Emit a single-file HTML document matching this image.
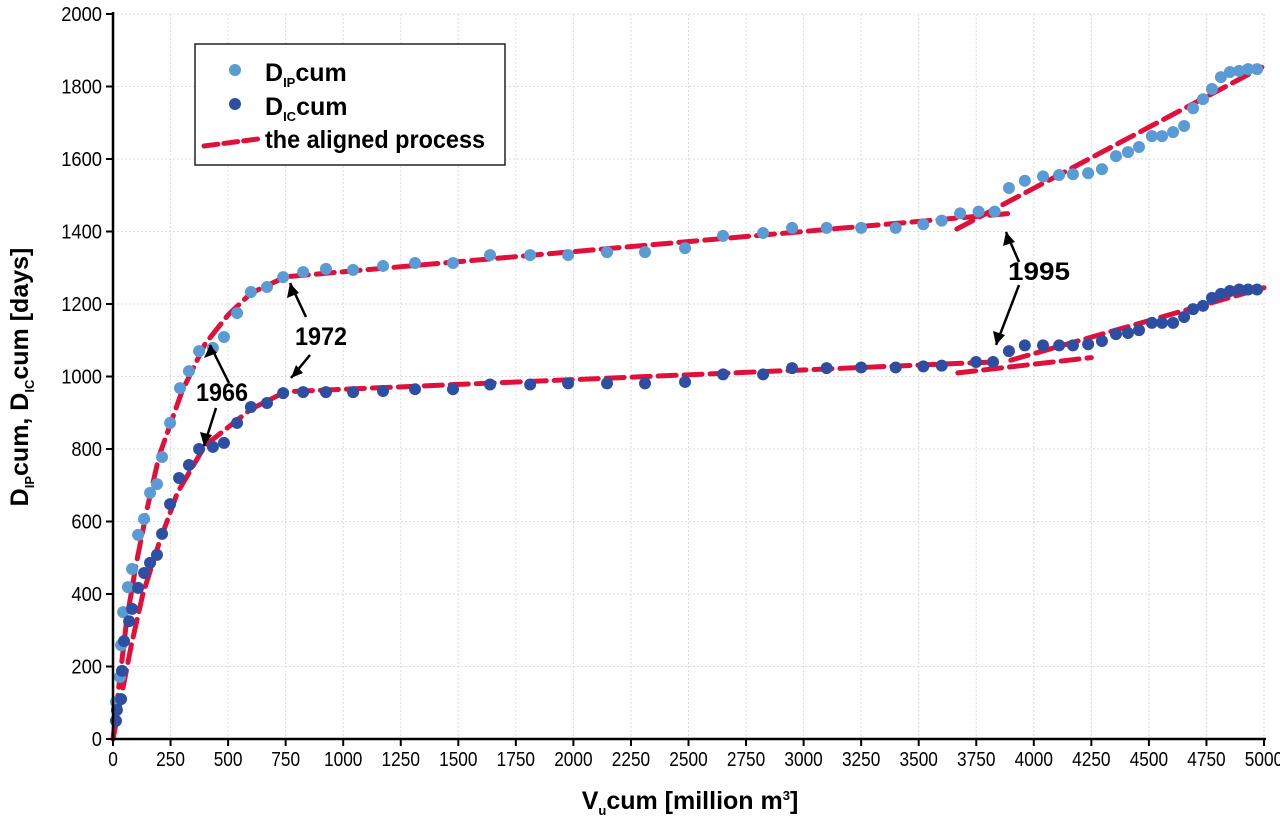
<!DOCTYPE html>
<html><head><meta charset="utf-8">
<style>
html,body{margin:0;padding:0;background:#fff;}
svg{display:block;font-family:"Liberation Sans Narrow","Liberation Sans",sans-serif;}
</style></head>
<body>
<svg id="chart" width="1280" height="817" viewBox="0 0 1280 817">
<g id="grid"></g>
<g id="lines"></g>
<g id="pts"></g>
<g id="axes"></g>
<g font-weight="bold" font-size="25" fill="#000">
  <text x="196" y="401" textLength="52" lengthAdjust="spacingAndGlyphs">1966</text>
  <text x="295" y="345" textLength="52" lengthAdjust="spacingAndGlyphs">1972</text>
  <text x="1008" y="280" textLength="62" lengthAdjust="spacingAndGlyphs">1995</text>
  <g stroke="#000" stroke-width="2.5" fill="none">
    <line x1="229" y1="383" x2="210" y2="345"/>
    <line x1="216" y1="408" x2="204" y2="446"/>
    <line x1="306" y1="317" x2="290" y2="283"/>
    <line x1="310" y1="355" x2="291" y2="378"/>
    <line x1="1019" y1="262" x2="1006" y2="232"/>
    <line x1="1019" y1="285" x2="996" y2="345"/>
  </g>
  <g fill="#000">
    <polygon points="210,345 204,358 217,353"/>
    <polygon points="204,446 200,432 212,435"/>
    <polygon points="290,283 287,298 299,293"/>
    <polygon points="291,378 296,365 303,373"/>
    <polygon points="1006,232 1003,246 1015,242"/>
    <polygon points="996,345 993,331 1005,335"/>
  </g>
</g>
<g>
  <rect x="195" y="44" width="310" height="121" fill="#fff" stroke="#222" stroke-width="1.5"/>
  <circle cx="235" cy="70" r="6" fill="#5b9bd5"/>
  <text x="265" y="81" font-size="25" font-weight="bold">D<tspan font-size="13" dy="6">IP</tspan><tspan dy="-6">cum</tspan></text>
  <circle cx="235" cy="104" r="6" fill="#2e4fa1"/>
  <text x="265" y="115" font-size="25" font-weight="bold">D<tspan font-size="13" dy="6">IC</tspan><tspan dy="-6">cum</tspan></text>
  <line x1="204" y1="146" x2="258" y2="139" stroke="#e0103a" stroke-width="5" stroke-dasharray="14,6" stroke-linecap="round"/>
  <text x="265" y="148" font-size="25" font-weight="bold" textLength="220" lengthAdjust="spacingAndGlyphs">the aligned process</text>
</g>
<text x="690" y="809" text-anchor="middle" font-size="25" font-weight="bold">V<tspan font-size="13" dy="6">u</tspan><tspan dy="-6">cum [million m</tspan><tspan font-size="13" dy="-9">3</tspan><tspan dy="9">]</tspan></text>
<text transform="translate(28,377) rotate(-90)" text-anchor="middle" font-size="25" font-weight="bold">D<tspan font-size="13" dy="6">IP</tspan><tspan dy="-6">cum, D</tspan><tspan font-size="13" dy="6">IC</tspan><tspan dy="-6">cum [days]</tspan></text>
</svg>
<script>
const xTicks=[0,250,500,750,1000,1250,1500,1750,2000,2250,2500,2750,3000,3250,3500,3750,4000,4250,4500,4750,5000];
const yTicks=[0,200,400,600,800,1000,1200,1400,1600,1800,2000];
const ipV=[13,30,35,44,65,83,109,135,161,191,213,248,291,330,374,434,482,539,599,669,739,826,925,1043,1173,1312,1477,1638,1812,1977,2146,2311,2485,2650,2824,2950,3100,3250,3400,3520,3600,3680,3760,3830,3892,3961,4040,4110,4170,4236,4296,4357,4409,4457,4513,4557,4605,4653,4692,4735,4774,4813,4852,4892,4931,4970];
const ipD=[102,171,259,350,419,469,563,607,679,703,778,872,968,1015,1070,1079,1109,1175,1233,1247,1274,1288,1297,1294,1305,1313,1313,1335,1335,1335,1343,1343,1354,1388,1396,1410,1410,1410,1410,1420,1430,1450,1455,1455,1520,1540,1552,1556,1558,1561,1572,1608,1619,1633,1663,1663,1674,1691,1740,1765,1793,1826,1840,1843,1848,1848];
const icV=[13,17,35,39,48,70,83,109,135,161,191,213,248,287,330,374,434,482,539,599,669,739,826,925,1043,1173,1312,1477,1638,1812,1977,2146,2311,2485,2650,2824,2950,3100,3250,3400,3520,3600,3749,3823,3892,3961,4040,4110,4170,4236,4296,4357,4409,4457,4513,4557,4605,4653,4692,4735,4774,4813,4852,4892,4931,4970];
const icD=[50,80,110,188,270,325,359,417,458,486,508,566,648,720,756,800,806,817,872,916,927,954,957,957,957,960,965,965,978,978,981,981,981,985,1006,1006,1023,1023,1025,1025,1028,1030,1040,1040,1070,1086,1086,1086,1086,1089,1098,1117,1120,1128,1148,1148,1148,1164,1186,1195,1217,1228,1236,1240,1240,1240];
const ipCurveV=[0,30,60,100,150,200,300,400,500,600,750,3918];
const ipCurveD=[0,170,330,480,640,780,960,1090,1170,1230,1275,1451];
const ipLateV=[3666,4991];
const ipLateD=[1407,1853];
const icCurveV=[0,40,80,130,200,280,400,500,600,750,3820];
const icCurveD=[0,130,260,400,540,680,810,860,910,958,1040];
const icMidV=[3670,4250];
const icMidD=[1010,1052];
const icLateV=[3900,5000];
const icLateD=[1045,1245];

const X0=113,X1=1264,Y0=739,Y1=14;
const sx=v=>X0+(v-0)/5000*(X1-X0);
const sy=d=>Y0-(d/2000)*(Y0-Y1);
const NS='http://www.w3.org/2000/svg';
function mk(tag,attrs,parent){const e=document.createElementNS(NS,tag);for(const k in attrs)e.setAttribute(k,attrs[k]);parent.appendChild(e);return e;}
const grid=document.getElementById('grid'),axes=document.getElementById('axes'),lines=document.getElementById('lines'),pts=document.getElementById('pts');
xTicks.forEach(t=>{
  const gl=mk('line',{x1:sx(t),x2:sx(t),y1:Y1,y2:Y0,stroke:'#ddd','stroke-width':1,'stroke-dasharray':'2,2'},grid);
  
  
  mk('line',{x1:sx(t),x2:sx(t),y1:Y0,y2:Y0+7,stroke:'#000','stroke-width':2},axes);
  const s=String(t);
  const tx=mk('text',{x:sx(t),y:Y0+27,'text-anchor':'middle','font-size':20,textLength:s.length*9.6,lengthAdjust:'spacingAndGlyphs'},axes);
  tx.textContent=s;
  
  
});
yTicks.forEach(t=>{
  const gl=mk('line',{x1:X0,x2:X1,y1:sy(t),y2:sy(t),stroke:'#ddd','stroke-width':1,'stroke-dasharray':'2,2'},grid);
  
  
  mk('line',{x1:X0-7,x2:X0,y1:sy(t),y2:sy(t),stroke:'#000','stroke-width':2},axes);
  const s=String(t);
  const tx=mk('text',{x:X0-11,y:sy(t)+7,'text-anchor':'end','font-size':20,textLength:s.length*10.2,lengthAdjust:'spacingAndGlyphs'},axes);
  tx.textContent=s;
  
  
});
mk('line',{x1:X0,x2:X0,y1:Y1-2,y2:Y0+1,stroke:'#000','stroke-width':2.5},axes);
mk('line',{x1:X0-1,x2:X1+2,y1:Y0,y2:Y0,stroke:'#000','stroke-width':2.5},axes);
function path(vs,ds,name){
  let d='';vs.forEach((v,i)=>{d+=(i?'L':'M')+sx(v).toFixed(1)+','+sy(ds[i]).toFixed(1);});
  const p=mk('path',{d:d,fill:'none',stroke:'#e0103a','stroke-width':5,'stroke-dasharray':'18,8','stroke-linecap':'round'},lines);
  
  
}
path(ipCurveV,ipCurveD,'aligned-ip-early');
path(ipLateV,ipLateD,'aligned-ip-late');
path(icCurveV,icCurveD,'aligned-ic-early');
path(icMidV,icMidD,'aligned-ic-mid');
path(icLateV,icLateD,'aligned-ic-late');
ipV.forEach((v,i)=>{
  const c=mk('circle',{cx:sx(v),cy:sy(ipD[i]),r:6,fill:'#5b9bd5'},pts);
  
  
});
icV.forEach((v,i)=>{
  const c=mk('circle',{cx:sx(v),cy:sy(icD[i]),r:6,fill:'#2e4fa1'},pts);
  
  
});
</script>
</body></html>
